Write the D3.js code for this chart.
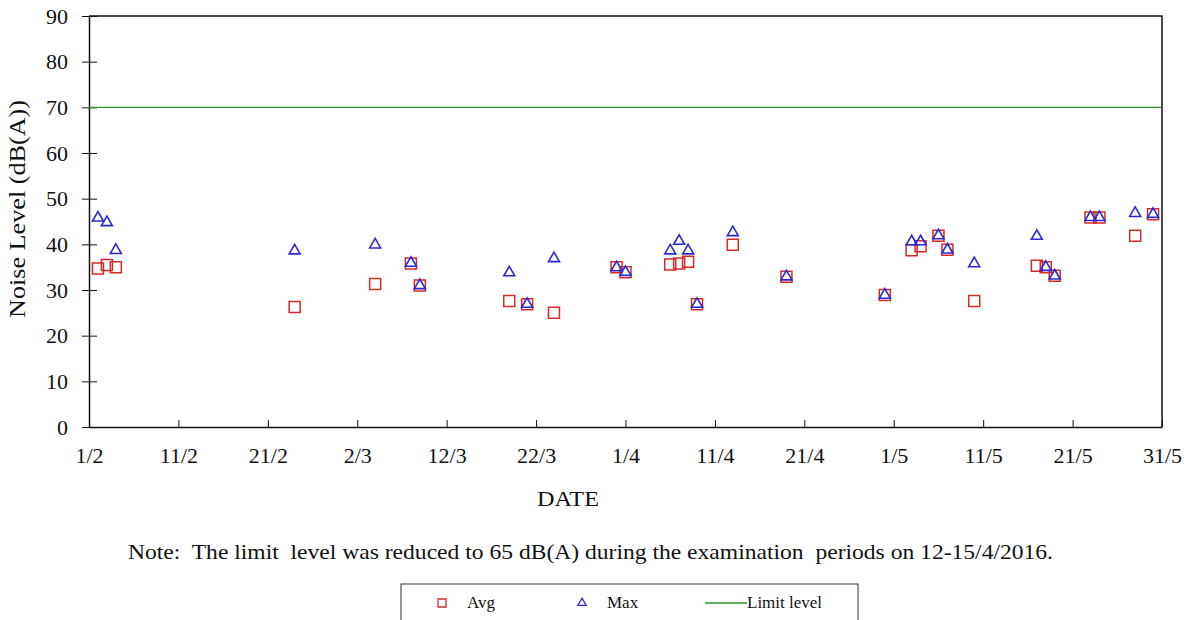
<!DOCTYPE html>
<html>
<head>
<meta charset="utf-8">
<script src="https://cdn.jsdelivr.net/npm/d3@7"></script>
<style>
  body { margin: 0; background: #fff; }
  svg text { font-family: "Liberation Serif", "DejaVu Serif", "Times New Roman", serif; fill: #111; }
</style>
</head>
<body>
<svg id="chart" width="1191" height="620"></svg>
<script>
// Measurement days (2016) and readings, dB(A)
var dates = ['2016-02-02', '2016-02-03', '2016-02-04', '2016-02-24', '2016-03-04', '2016-03-08',
  '2016-03-09', '2016-03-19', '2016-03-21', '2016-03-24', '2016-03-31', '2016-04-01',
  '2016-04-06', '2016-04-07', '2016-04-08', '2016-04-09', '2016-04-13', '2016-04-19',
  '2016-04-30', '2016-05-03', '2016-05-04', '2016-05-06', '2016-05-07', '2016-05-10',
  '2016-05-17', '2016-05-18', '2016-05-19', '2016-05-23', '2016-05-24', '2016-05-28',
  '2016-05-30'];
var avgValues = [34.7, 35.5, 35.0, 26.3, 31.3, 35.8,
  31.0, 27.6, 26.9, 25.0, 35.0, 33.9,
  35.6, 35.8, 36.2, 26.9, 39.9, 32.9,
  28.9, 38.7, 39.6, 41.9, 38.8, 27.6,
  35.3, 35.0, 33.1, 45.9, 45.9, 41.9,
  46.6];
var maxValues = [45.8, 44.8, 38.7, 38.6, 39.9, 35.9,
  31.0, 33.8, 26.9, 36.9, 34.9, 33.9,
  38.6, 40.7, 38.6, 26.9, 42.6, 32.9,
  28.9, 40.6, 40.6, 41.9, 38.8, 35.8,
  41.8, 35.0, 33.1, 45.9, 45.9, 46.8,
  46.6];
var limitLevel = 70;
var xTickDates = ['2016-02-01', '2016-02-11', '2016-02-21', '2016-03-02', '2016-03-12', '2016-03-22',
  '2016-04-01', '2016-04-11', '2016-04-21', '2016-05-01', '2016-05-11', '2016-05-21', '2016-05-31'];
var yTicks = [0, 10, 20, 30, 40, 50, 60, 70, 80, 90];

var serif = '"Liberation Serif", "DejaVu Serif", "Times New Roman", serif';
var parse = d3.utcParse('%Y-%m-%d');
var svg = d3.select('#chart');
var margin = { left: 89, right: 29, top: 16, bottom: 193 };
var width = 1191 - margin.left - margin.right;
var height = 620 - margin.top - margin.bottom;

var x = d3.scaleUtc()
  .domain([parse(xTickDates[0]), parse(xTickDates[xTickDates.length - 1])])
  .range([0, width]);
var y = d3.scaleLinear().domain([0, 90]).range([height, 0]);

var g = svg.append('g').attr('transform', 'translate(' + margin.left + ',' + margin.top + ')');

// frame top and right
g.append('path')
  .attr('d', 'M0,0H' + width + 'V' + height)
  .attr('fill', 'none').attr('stroke', '#111').attr('stroke-width', 1.5);

// y axis, ticks cross the line
var yAxis = g.append('g')
  .call(d3.axisLeft(y).tickValues(yTicks).tickSizeInner(7).tickSizeOuter(0).tickPadding(14));
yAxis.attr('font-family', null);
yAxis.selectAll('.tick line').attr('x1', 8).attr('stroke', '#111');
yAxis.select('.domain').attr('stroke', '#111').attr('stroke-width', 1.5);
yAxis.selectAll('text').style('font-size', '22px').style('font-family', serif).attr('fill', '#111');

// x axis, ticks point inward
var xAxis = g.append('g')
  .attr('transform', 'translate(0,' + height + ')')
  .call(d3.axisBottom(x).tickValues(xTickDates.map(parse))
    .tickFormat(d3.utcFormat('%-d/%-m')).tickSizeInner(-7).tickSizeOuter(0).tickPadding(20));
xAxis.attr('font-family', null);
xAxis.selectAll('.tick line').attr('stroke', '#111');
xAxis.select('.domain').attr('stroke', '#111').attr('stroke-width', 1.5);
xAxis.selectAll('text').style('font-size', '22px').style('font-family', serif).attr('fill', '#111');

// limit line
g.append('line')
  .attr('x1', 0).attr('x2', width)
  .attr('y1', y(limitLevel)).attr('y2', y(limitLevel))
  .attr('stroke', '#2f8f2f').attr('stroke-width', 1.3);

var squareSym = d3.symbol(d3.symbolSquare, 121);
var triSym = d3.symbol(d3.symbolTriangle, 52);

g.append('g').selectAll('path')
  .data(dates)
  .join('path')
  .attr('d', squareSym)
  .attr('transform', function (d, i) { return 'translate(' + x(parse(d)) + ',' + y(avgValues[i]) + ')'; })
  .attr('fill', 'none').attr('stroke', '#d62a2a').attr('stroke-width', 1.5);

g.append('g').selectAll('path')
  .data(dates)
  .join('path')
  .attr('d', triSym)
  .attr('transform', function (d, i) { return 'translate(' + x(parse(d)) + ',' + y(maxValues[i]) + ')'; })
  .attr('fill', 'none').attr('stroke', '#2a2ad0').attr('stroke-width', 1.6);

// axis titles
svg.append('text')
  .attr('transform', 'translate(25,209) rotate(-90)')
  .attr('x', -109)
  .attr('textLength', 218).attr('lengthAdjust', 'spacingAndGlyphs')
  .style('font-size', '23px')
  .text('Noise Level (dB(A))');

svg.append('text')
  .attr('x', 537).attr('y', 506)
  .attr('textLength', 62).attr('lengthAdjust', 'spacingAndGlyphs')
  .style('font-size', '22px')
  .text('DATE');

svg.append('text')
  .attr('x', 128).attr('y', 559)
  .attr('textLength', 925).attr('lengthAdjust', 'spacingAndGlyphs')
  .style('font-size', '22px')
  .style('white-space', 'pre')
  .text('Note:  The limit  level was reduced to 65 dB(A) during the examination  periods on 12-15/4/2016.');

// legend
var lg = svg.append('g');
lg.append('rect')
  .attr('x', 401).attr('y', 584).attr('width', 457).attr('height', 45)
  .attr('fill', '#fff').attr('stroke', '#333').attr('stroke-width', 1);
lg.append('path')
  .attr('d', d3.symbol(d3.symbolSquare, 64))
  .attr('transform', 'translate(442,603)')
  .attr('fill', 'none').attr('stroke', '#d62a2a').attr('stroke-width', 1.3);
lg.append('text').attr('x', 467).attr('y', 608).style('font-size', '17px').text('Avg');
lg.append('path')
  .attr('d', d3.symbol(d3.symbolTriangle, 30))
  .attr('transform', 'translate(582,603)')
  .attr('fill', 'none').attr('stroke', '#2a2ad0').attr('stroke-width', 1.3);
lg.append('text').attr('x', 607).attr('y', 608).style('font-size', '17px').text('Max');
lg.append('line')
  .attr('x1', 705).attr('x2', 747).attr('y1', 603).attr('y2', 603)
  .attr('stroke', '#2f8f2f').attr('stroke-width', 1.3);
lg.append('text').attr('x', 747).attr('y', 608).style('font-size', '17px').text('Limit level');
</script>
</body>
</html>
